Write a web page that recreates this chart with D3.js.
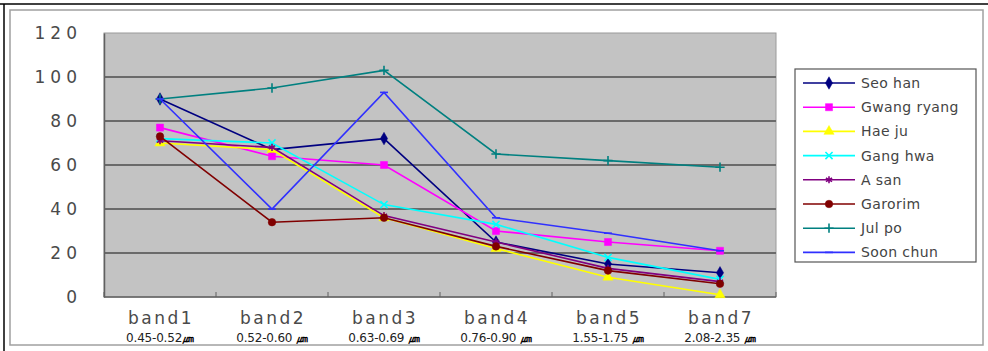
<!DOCTYPE html>
<html lang="en">
<head>
    <meta charset="UTF-8">
    <title>Band reflectance</title>
    <script src="https://d3js.org/d3.v7.min.js"></script>
    <style>
        body { margin: 0; background: #fff; }
        svg text { font-family: "DejaVu Sans", sans-serif; }
    </style>
</head>
<body>
    <svg id="chart"></svg>
    <script>
        const categories = ['band1', 'band2', 'band3', 'band4', 'band5', 'band7'];
        const ranges = ['0.45-0.52', '0.52-0.60 ', '0.63-0.69 ', '0.76-0.90 ', '1.55-1.75 ', '2.08-2.35 '];
        const unit = '㎛';
        const yTicks = [0, 20, 40, 60, 80, 100, 120];

        const seriesNames = ['Seo han', 'Gwang ryang', 'Hae ju', 'Gang hwa', 'A san', 'Garorim', 'Jul po', 'Soon chun'];
        const seoHan     = [90, 67, 72, 25, 15, 11];
        const gwangRyang = [77, 64, 60, 30, 25, 21];
        const haeJu      = [70, 67, 36, 22, 9, 1];
        const gangHwa    = [72, 70, 42, 33, 18, 8];
        const aSan       = [71, 68, 37, 25, 13, 7];
        const garorim    = [73, 34, 36, 23, 12, 6];
        const julPo      = [90, 95, 103, 65, 62, 59];
        const soonChun   = [90, 40, 93, 36, 29, 21];
        const seriesValues = [seoHan, gwangRyang, haeJu, gangHwa, aSan, garorim, julPo, soonChun];

        // Excel-ish default colours and marker shapes
        const colors = ['#000080', '#ff00ff', '#ffff00', '#00ffff', '#800080', '#800000', '#008080', '#3030ff'];
        const dash = { draw(ctx, size) { const r = Math.sqrt(size) / 2 + 1; ctx.moveTo(-r, 0); ctx.lineTo(r, 0); } };
        const shapes = [d3.symbolDiamond, d3.symbolSquare, d3.symbolTriangle, d3.symbolTimes,
                        d3.symbolAsterisk, d3.symbolCircle, d3.symbolPlus, dash];
        const sizes = [45, 50, 45, 35, 35, 45, 30, 35];
        const filled = [true, true, true, false, false, true, false, false];

        const width = 988, height = 351;
        const svg = d3.select('#chart').attr('width', width).attr('height', height);

        // frame
        svg.append('rect').attr('x', 10).attr('y', 10).attr('width', 973).attr('height', 335)
            .attr('fill', '#fff').attr('stroke', '#a0a0a0').attr('stroke-width', 1.5);
        svg.append('line').attr('x1', 0).attr('x2', width).attr('y1', 4).attr('y2', 4)
            .attr('stroke', '#000').attr('stroke-width', 1.5);
        svg.append('line').attr('x1', 4).attr('x2', 4).attr('y1', 4).attr('y2', height)
            .attr('stroke', '#000').attr('stroke-width', 1.5);

        const plot = { left: 104, right: 776, top: 33, bottom: 297 };

        const x = d3.scalePoint().domain(categories).range([plot.left, plot.right]).padding(0.5);
        const y = d3.scaleLinear().domain([0, 120]).range([plot.bottom, plot.top]);

        svg.append('rect')
            .attr('x', plot.left).attr('y', plot.top)
            .attr('width', plot.right - plot.left).attr('height', plot.bottom - plot.top)
            .attr('fill', '#c3c3c3').attr('stroke', '#9a9a9a');

        // gridlines
        svg.append('g')
            .selectAll('line')
            .data(yTicks.filter(t => t > 0 && t < 120))
            .join('line')
            .attr('x1', plot.left).attr('x2', plot.right)
            .attr('y1', d => y(d)).attr('y2', d => y(d))
            .attr('stroke', '#6a6a6a').attr('stroke-width', 2);

        // y axis labels
        const yAxis = svg.append('g')
            .attr('transform', `translate(${plot.left},0)`)
            .call(d3.axisLeft(y).tickValues(yTicks).tickSize(0).tickPadding(22));
        yAxis.select('.domain').attr('stroke', '#606060').attr('stroke-width', 1.5);
        yAxis.selectAll('text')
            .attr('font-size', 17).attr('fill', '#4a4a4a')
            .style('letter-spacing', '5px').attr('dy', '0.35em');

        // x axis with inward ticks between categories
        svg.append('line')
            .attr('x1', plot.left).attr('x2', plot.right)
            .attr('y1', plot.bottom).attr('y2', plot.bottom)
            .attr('stroke', '#606060').attr('stroke-width', 1.5);
        const step = x.step();
        svg.append('g')
            .selectAll('line')
            .data(d3.range(categories.length + 1))
            .join('line')
            .attr('x1', i => plot.left + i * step).attr('x2', i => plot.left + i * step)
            .attr('y1', plot.bottom - 5).attr('y2', plot.bottom)
            .attr('stroke', '#606060');

        const xLabels = svg.append('g');
        xLabels.selectAll('text.band')
            .data(categories)
            .join('text')
            .attr('class', 'band')
            .attr('x', d => x(d) + 1).attr('y', 324)
            .attr('text-anchor', 'middle')
            .attr('font-size', 17).attr('fill', '#4a4a4a')
            .style('letter-spacing', '2.5px')
            .text(d => d);
        const rangeText = xLabels.selectAll('text.range')
            .data(categories)
            .join('text')
            .attr('class', 'range')
            .attr('x', d => x(d)).attr('y', 342)
            .attr('text-anchor', 'middle')
            .attr('font-size', 12).attr('fill', '#222')
            .style('letter-spacing', '-0.2px');
        rangeText.append('tspan').text((d, i) => ranges[i]);
        rangeText.append('tspan').attr('font-weight', 'bold').attr('fill', '#000').text(unit);

        // series lines and markers
        const line = d3.line().x((d, i) => x(categories[i])).y(d => y(d));
        const series = svg.append('g')
            .selectAll('g')
            .data(seriesValues)
            .join('g');
        series.append('path')
            .attr('d', d => line(d))
            .attr('fill', 'none')
            .attr('stroke', (d, i) => colors[i])
            .attr('stroke-width', 1.6);
        series.each(function (vals, si) {
            d3.select(this).selectAll('path.mk')
                .data(vals)
                .join('path')
                .attr('class', 'mk')
                .attr('transform', (d, i) => `translate(${x(categories[i])},${y(d)})`)
                .attr('d', d3.symbol().type(shapes[si]).size(sizes[si]))
                .attr('fill', filled[si] ? colors[si] : 'none')
                .attr('stroke', colors[si])
                .attr('stroke-width', filled[si] ? 0.5 : 1.6);
        });

        // legend
        const legend = svg.append('g');
        legend.append('rect')
            .attr('x', 795).attr('y', 69).attr('width', 181).attr('height', 193)
            .attr('fill', '#fff').attr('stroke', '#555').attr('stroke-width', 1.2);
        const items = legend.selectAll('g.item')
            .data(seriesNames)
            .join('g')
            .attr('class', 'item')
            .attr('transform', (d, i) => `translate(0,${83 + i * 24.2})`);
        items.append('line')
            .attr('x1', 803).attr('x2', 855).attr('y1', 0).attr('y2', 0)
            .attr('stroke', (d, i) => colors[i]).attr('stroke-width', 1.6);
        items.append('path')
            .attr('transform', 'translate(829,0)')
            .attr('d', (d, i) => d3.symbol().type(shapes[i]).size(sizes[i])())
            .attr('fill', (d, i) => filled[i] ? colors[i] : 'none')
            .attr('stroke', (d, i) => colors[i])
            .attr('stroke-width', (d, i) => filled[i] ? 0.5 : 1.6);
        items.append('text')
            .attr('x', 861).attr('y', 0).attr('dy', '0.36em')
            .attr('font-size', 14).attr('fill', '#444')
            .style('letter-spacing', '0.4px')
            .text(d => d);
    </script>
</body>
</html>
